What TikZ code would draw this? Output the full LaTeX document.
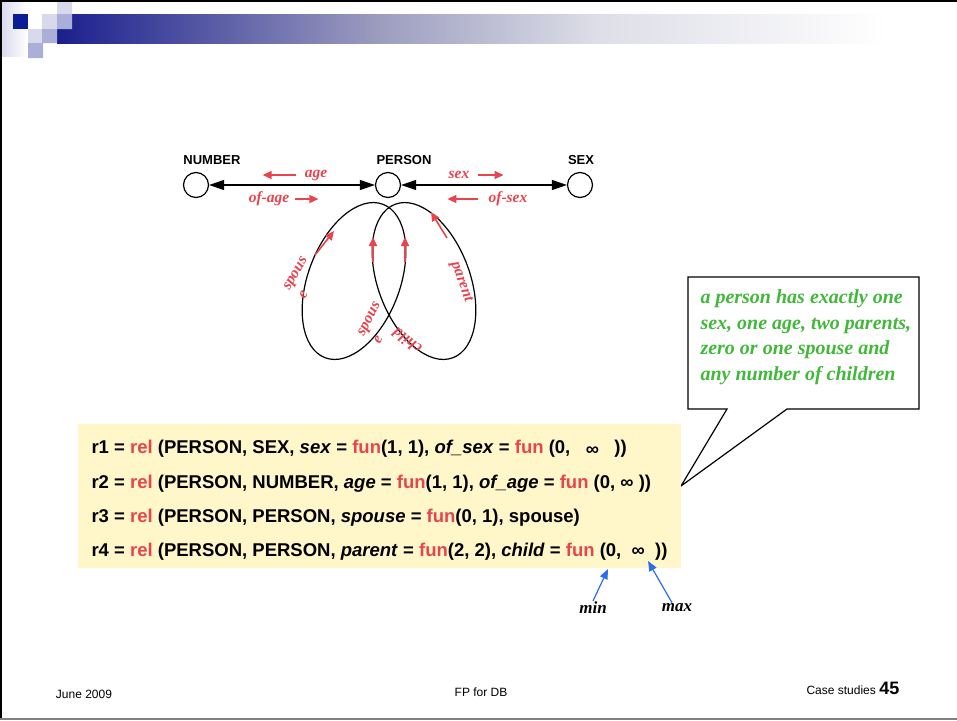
\documentclass[tikz,border=0pt]{standalone}
\usepackage{fontspec}
\setmainfont{Liberation Sans}
\newfontfamily\tnr{Liberation Serif}
\usetikzlibrary{arrows.meta}
\definecolor{cred}{HTML}{E8444E}
\definecolor{cgreen}{HTML}{42B83A}
\definecolor{cblue}{HTML}{2C6CEE}
\definecolor{pad}{HTML}{FFF6CA}
\definecolor{hsq}{HTML}{0A1C96}
\definecolor{hdark}{HTML}{1B1F8D}
\definecolor{hbar}{HTML}{9D9DC0}
\definecolor{hlight}{HTML}{DDDEE7}
\definecolor{hpale}{HTML}{D8DAEC}
\definecolor{hmid}{HTML}{ABAED8}
% tikz fits the path into the 25bp..75bp band of a shading
\pgfdeclarehorizontalshading{barfade}{100bp}{color(0bp)=(hdark); color(25bp)=(hdark); color(44.5bp)=(hbar); color(57.5bp)=(hlight); color(75bp)=(white); color(100bp)=(white)}
\newcommand{\kw}[1]{\textcolor{cred}{#1}}

\begin{document}
\begin{tikzpicture}[x=1pt,y=-1pt,
    ent/.style={circle,draw,line width=1.2pt,minimum size=25pt,inner sep=0pt},
    entlab/.style={font=\fontsize{13}{15}\selectfont\bfseries},
    rlab/.style={inner sep=1pt,font=\tnr\fontsize{15.5}{18}\selectfont\bfseries\itshape,color=cred},
    link/.style={{Triangle[length=15pt,width=10pt]}-{Triangle[length=15pt,width=10pt]},line width=1.2pt},
    rarr/.style={-{Triangle[length=9pt,width=8pt]},cred,line width=1.6pt},
    barr/.style={-{Triangle[length=10pt,width=8pt]},cblue,line width=1.2pt},
    note/.style={anchor=base west,font=\tnr\fontsize{20}{24}\selectfont\bfseries\itshape,color=cgreen},
    code/.style={anchor=base west,font=\fontsize{18.5}{22}\selectfont\bfseries},
    mm/.style={inner sep=1pt,font=\tnr\fontsize{17}{19}\selectfont\bfseries\itshape},
    foot/.style={anchor=base,font=\fontsize{12}{14}\selectfont}]
  \useasboundingbox (0,0) rectangle (957,720);

  % header bar and squares
  \shade[left color=hpale,right color=white] (1,1) rectangle (27,56);
  \shade[shading=barfade] (57,14) rectangle (887,43);
  \fill[hsq] (13,14) rectangle (28,29);
  \fill[hpale] (42,14) rectangle (57,29) (57,0) rectangle (72,14) (28,29) rectangle (42,43);
  \fill[hmid] (57,14) rectangle (72,29) (42,29) rectangle (57,43) (28,43) rectangle (43,58);
  \draw[line width=1.5pt] (1,720) -- (1,1) -- (957,1);
  \draw[line width=2pt,gray] (0,718.5) -- (957,718.5);

  % entities
  \node[ent] (number) at (196,185) {};
  \node[ent] (person) at (388,185) {};
  \node[ent] (sex) at (580,185) {};
  \node[entlab] at (212,160) {NUMBER};
  \node[entlab] at (404,160) {PERSON};
  \node[entlab] at (581,160) {SEX};
  \draw[link] (number) -- (person);
  \draw[link] (person) -- (sex);

  % role names
  \node[rlab] (age) at (316,175) {age};
  \node[rlab] (ofage) at (269,199) {of-age};
  \node[rlab] (sexr) at (459,175) {sex};
  \node[rlab] (ofsex) at (508,199) {of-sex};
  \draw[rarr] ([xshift=-8pt]age.west) -- ++(-33,0);
  \draw[rarr] ([xshift=5pt]ofage.east) -- ++(23,0);
  \draw[rarr] ([xshift=7pt]sexr.east) -- ++(26,0);
  \draw[rarr] ([xshift=-9pt]ofsex.west) -- ++(-31,0);

  % recursive relations on PERSON
  \draw[line width=1.2pt,rotate around={-20.6:(354,281)}] (354,281) ellipse [x radius=46,y radius=82];
  \draw[line width=1.2pt,rotate around={20.6:(424,281)}] (424,281) ellipse [x radius=46,y radius=82];
  \draw[rarr] (315,255) -- (334,231);
  \draw[rarr] (373,262) -- (373,237);
  \draw[rarr] (405,262) -- (405,237);
  \draw[rarr] (447,238) -- (431,212);
  \node[rlab,align=left,rotate=60] at (303,278) {spous\\e};
  \node[rlab,align=left,rotate=63] at (377,323) {spous\\e};
  \node[rlab,rotate=143] at (407,341) {child};
  \node[rlab,rotate=-70] at (461,282) {parent};

  % callout
  \draw[line width=1.2pt,fill=white] (688,277) -- (919,277) -- (919,409) -- (787,409)
       -- (681,486) -- (727,409) -- (688,409) -- cycle;
  \foreach \ln [count=\i] in {a person has exactly one, {sex, one age, two parents,}, zero or one spouse and, any number of children}
    \node[note] at (697,278+25.6*\i) {\ln};

  % relation definitions
  \fill[pad] (78,424) rectangle (681,568);
  \node[code] (r1) at (88,453) {r1 = \kw{rel} (PERSON, SEX, \textit{sex} = \kw{fun}(1, 1), \textit{of\_sex} = \kw{fun} (0, \ \ \raisebox{-2pt}{∞} \ \ ))};
  \node[code] (r2) at (88,488) {r2 = \kw{rel} (PERSON, NUMBER, \textit{age} = \kw{fun}(1, 1), \textit{of\_age} = \kw{fun} (0, ∞ ))};
  \node[code] (r3) at (88,522) {r3 = \kw{rel} (PERSON, PERSON, \textit{spouse} = \kw{fun}(0, 1), spouse)};
  \node[code] (r4) at (88,556) {r4 = \kw{rel} (PERSON, PERSON, \textit{parent} = \kw{fun}(2, 2), \textit{child} = \kw{fun} (0, \ ∞ \ ))};

  % cardinality bounds
  \node[mm] (min) at (593,608) {min};
  \node[mm] (max) at (677,608) {max};
  \coordinate (lo) at (608,569);
  \coordinate (hi) at (648,561);
  \draw[barr] (min.north) -- (lo);
  \draw[barr] ([xshift=-5pt]max.north) -- (hi);

  % footer
  \node[foot] at (84,698) {June 2009};
  \node[foot] at (481,696) {FP for DB};
  \node[foot,anchor=base west] at (803,694) {Case studies \textbf{\fontsize{18}{20}\selectfont 45}};
\end{tikzpicture}
\end{document}
